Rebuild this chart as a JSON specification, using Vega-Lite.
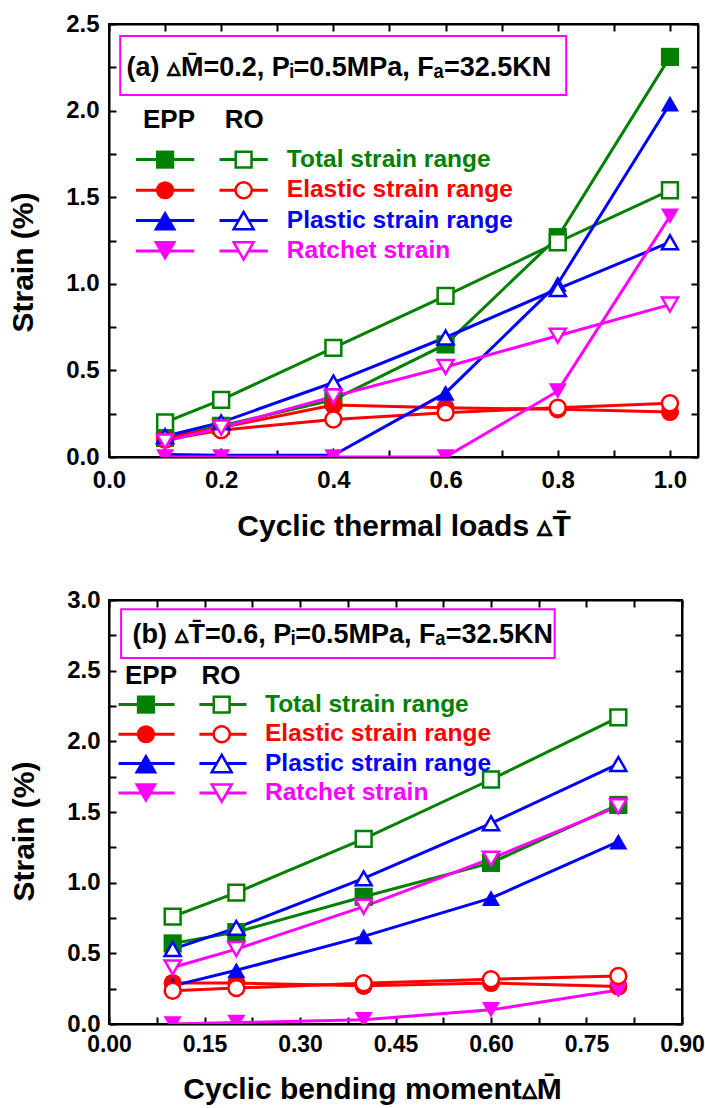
{
"$schema": "https://vega.github.io/schema/vega-lite/v6.json",
"background": "white",
"padding": {"left": 7, "top": 11, "right": 0, "bottom": 4},
"datasets": {
"a": [
{"x":0.1,"y":0.11,"series":"Total","model":"EPP"},{"x":0.2,"y":0.18,"series":"Total","model":"EPP"},{"x":0.4,"y":0.33,"series":"Total","model":"EPP"},{"x":0.6,"y":0.65,"series":"Total","model":"EPP"},{"x":0.8,"y":1.27,"series":"Total","model":"EPP"},{"x":1.0,"y":2.31,"series":"Total","model":"EPP"},
{"x":0.1,"y":0.20,"series":"Total","model":"RO"},{"x":0.2,"y":0.33,"series":"Total","model":"RO"},{"x":0.4,"y":0.63,"series":"Total","model":"RO"},{"x":0.6,"y":0.93,"series":"Total","model":"RO"},{"x":0.8,"y":1.24,"series":"Total","model":"RO"},{"x":1.0,"y":1.54,"series":"Total","model":"RO"},
{"x":0.1,"y":0.11,"series":"Elastic","model":"EPP"},{"x":0.2,"y":0.17,"series":"Elastic","model":"EPP"},{"x":0.4,"y":0.30,"series":"Elastic","model":"EPP"},{"x":0.6,"y":0.285,"series":"Elastic","model":"EPP"},{"x":0.8,"y":0.275,"series":"Elastic","model":"EPP"},{"x":1.0,"y":0.26,"series":"Elastic","model":"EPP"},
{"x":0.1,"y":0.10,"series":"Elastic","model":"RO"},{"x":0.2,"y":0.155,"series":"Elastic","model":"RO"},{"x":0.4,"y":0.217,"series":"Elastic","model":"RO"},{"x":0.6,"y":0.256,"series":"Elastic","model":"RO"},{"x":0.8,"y":0.285,"series":"Elastic","model":"RO"},{"x":1.0,"y":0.31,"series":"Elastic","model":"RO"},
{"x":0.1,"y":0.015,"series":"Plastic","model":"EPP"},{"x":0.2,"y":0.01,"series":"Plastic","model":"EPP"},{"x":0.4,"y":0.01,"series":"Plastic","model":"EPP"},{"x":0.6,"y":0.37,"series":"Plastic","model":"EPP"},{"x":0.8,"y":1.0,"series":"Plastic","model":"EPP"},{"x":1.0,"y":2.04,"series":"Plastic","model":"EPP"},
{"x":0.1,"y":0.12,"series":"Plastic","model":"RO"},{"x":0.2,"y":0.20,"series":"Plastic","model":"RO"},{"x":0.4,"y":0.43,"series":"Plastic","model":"RO"},{"x":0.6,"y":0.69,"series":"Plastic","model":"RO"},{"x":0.8,"y":0.97,"series":"Plastic","model":"RO"},{"x":1.0,"y":1.24,"series":"Plastic","model":"RO"},
{"x":0.1,"y":0.0,"series":"Ratchet","model":"EPP"},{"x":0.2,"y":0.0,"series":"Ratchet","model":"EPP"},{"x":0.4,"y":0.0,"series":"Ratchet","model":"EPP"},{"x":0.6,"y":0.0,"series":"Ratchet","model":"EPP"},{"x":0.8,"y":0.38,"series":"Ratchet","model":"EPP"},{"x":1.0,"y":1.39,"series":"Ratchet","model":"EPP"},
{"x":0.1,"y":0.09,"series":"Ratchet","model":"RO"},{"x":0.2,"y":0.17,"series":"Ratchet","model":"RO"},{"x":0.4,"y":0.35,"series":"Ratchet","model":"RO"},{"x":0.6,"y":0.52,"series":"Ratchet","model":"RO"},{"x":0.8,"y":0.70,"series":"Ratchet","model":"RO"},{"x":1.0,"y":0.88,"series":"Ratchet","model":"RO"}
],
"b": [
{"x":0.1,"y":0.57,"series":"Total","model":"EPP"},{"x":0.2,"y":0.65,"series":"Total","model":"EPP"},{"x":0.4,"y":0.90,"series":"Total","model":"EPP"},{"x":0.6,"y":1.14,"series":"Total","model":"EPP"},{"x":0.8,"y":1.55,"series":"Total","model":"EPP"},
{"x":0.1,"y":0.76,"series":"Total","model":"RO"},{"x":0.2,"y":0.93,"series":"Total","model":"RO"},{"x":0.4,"y":1.31,"series":"Total","model":"RO"},{"x":0.6,"y":1.73,"series":"Total","model":"RO"},{"x":0.8,"y":2.17,"series":"Total","model":"RO"},
{"x":0.1,"y":0.29,"series":"Elastic","model":"EPP"},{"x":0.2,"y":0.29,"series":"Elastic","model":"EPP"},{"x":0.4,"y":0.27,"series":"Elastic","model":"EPP"},{"x":0.6,"y":0.29,"series":"Elastic","model":"EPP"},{"x":0.8,"y":0.265,"series":"Elastic","model":"EPP"},
{"x":0.1,"y":0.235,"series":"Elastic","model":"RO"},{"x":0.2,"y":0.254,"series":"Elastic","model":"RO"},{"x":0.4,"y":0.289,"series":"Elastic","model":"RO"},{"x":0.6,"y":0.317,"series":"Elastic","model":"RO"},{"x":0.8,"y":0.34,"series":"Elastic","model":"RO"},
{"x":0.1,"y":0.27,"series":"Plastic","model":"EPP"},{"x":0.2,"y":0.38,"series":"Plastic","model":"EPP"},{"x":0.4,"y":0.62,"series":"Plastic","model":"EPP"},{"x":0.6,"y":0.89,"series":"Plastic","model":"EPP"},{"x":0.8,"y":1.29,"series":"Plastic","model":"EPP"},
{"x":0.1,"y":0.53,"series":"Plastic","model":"RO"},{"x":0.2,"y":0.68,"series":"Plastic","model":"RO"},{"x":0.4,"y":1.03,"series":"Plastic","model":"RO"},{"x":0.6,"y":1.42,"series":"Plastic","model":"RO"},{"x":0.8,"y":1.84,"series":"Plastic","model":"RO"},
{"x":0.1,"y":0.0,"series":"Ratchet","model":"EPP"},{"x":0.2,"y":0.01,"series":"Ratchet","model":"EPP"},{"x":0.4,"y":0.03,"series":"Ratchet","model":"EPP"},{"x":0.6,"y":0.10,"series":"Ratchet","model":"EPP"},{"x":0.8,"y":0.24,"series":"Ratchet","model":"EPP"},
{"x":0.1,"y":0.40,"series":"Ratchet","model":"RO"},{"x":0.2,"y":0.53,"series":"Ratchet","model":"RO"},{"x":0.4,"y":0.83,"series":"Ratchet","model":"RO"},{"x":0.6,"y":1.17,"series":"Ratchet","model":"RO"},{"x":0.8,"y":1.54,"series":"Ratchet","model":"RO"}
]
},
"columns": 1,
"align": "none",
"spacing": 45,
"concat": [
{
"width": 589, "height": 433,
"data": {"values": [{}]},
"resolve": {"axis": {"x": "independent", "y": "independent"}, "scale": {"size": "independent"}},
"layer": [
{"data": {"name": "a"}, "mark": {"type": "line", "strokeWidth": 3, "clip": true},
 "encoding": {
  "x": {"field": "x", "type": "quantitative", "scale": {"domain": [0, 1.05], "nice": false, "zero": false},
        "axis": {"orient": "bottom", "title": "Cyclic thermal loads ▵T̄", "values": [0,0.1,0.2,0.3,0.4,0.5,0.6,0.7,0.8,0.9,1], "labelExpr": "round(datum.value*10)%2==0 ? format(datum.value,'.1f') : ''", "labelPadding": 18, "titlePadding": 19}},
  "y": {"field": "y", "type": "quantitative", "scale": {"domain": [0, 2.5], "nice": false},
        "axis": {"orient": "left", "title": "Strain (%)", "titleY": 238, "values": [0,0.25,0.5,0.75,1,1.25,1.5,1.75,2,2.25,2.5], "labelExpr": "round(datum.value*4)%2==0 ? format(datum.value,'.1f') : ''", "labelPadding": 17, "titlePadding": 27}},
  "color": {"field": "series", "type": "nominal", "scale": {"domain": ["Total","Elastic","Plastic","Ratchet"], "range": ["#008000","#FF0000","#0000FF","#FF00FF"]}, "legend": null},
  "detail": {"field": "model", "type": "nominal"}
 }},
{"data": {"name": "a"}, "mark": {"type": "point", "opacity": 0},
 "encoding": {
  "x": {"field": "x", "type": "quantitative", "axis": {"orient": "top", "title": null, "labels": false, "values": [0,0.1,0.2,0.3,0.4,0.5,0.6,0.7,0.8,0.9,1]}},
  "y": {"field": "y", "type": "quantitative", "axis": {"orient": "right", "title": null, "labels": false, "values": [0,0.25,0.5,0.75,1,1.25,1.5,1.75,2,2.25,2.5]}}
 }},
{"data": {"name": "a"}, "transform": [{"filter": "datum.model == 'EPP'"}],
 "mark": {"type": "point", "filled": true, "opacity": 1, "clip": true},
 "encoding": {
  "x": {"field": "x", "type": "quantitative", "axis": null},
  "y": {"field": "y", "type": "quantitative", "axis": null},
  "color": {"field": "series", "type": "nominal", "legend": null},
  "shape": {"field": "series", "type": "nominal", "scale": {"domain": ["Total","Elastic","Plastic","Ratchet"], "range": ["square","circle","triangle-up","triangle-down"]}, "legend": null},
  "size": {"field": "series", "type": "nominal", "scale": {"domain": ["Total","Elastic","Plastic","Ratchet"], "range": [330,330,520,520]}, "legend": null}
 }},
{"data": {"name": "a"}, "transform": [{"filter": "datum.model == 'RO'"}],
 "mark": {"type": "point", "filled": true, "fill": "white", "strokeWidth": 2.5, "opacity": 1, "clip": true},
 "encoding": {
  "x": {"field": "x", "type": "quantitative", "axis": null},
  "y": {"field": "y", "type": "quantitative", "axis": null},
  "stroke": {"field": "series", "type": "nominal", "scale": {"domain": ["Total","Elastic","Plastic","Ratchet"], "range": ["#008000","#FF0000","#0000FF","#FF00FF"]}, "legend": null},
  "shape": {"field": "series", "type": "nominal", "legend": null},
  "size": {"field": "series", "type": "nominal", "scale": {"domain": ["Total","Elastic","Plastic","Ratchet"], "range": [250,260,400,400]}, "legend": null}
 }},
{"mark": {"type": "rect", "fill": "white", "stroke": "#FF00FF", "strokeWidth": 2},
 "encoding": {"x": {"datum": 0.02, "type": "quantitative", "axis": null}, "x2": {"datum": 0.815}, "y": {"datum": 2.09, "type": "quantitative", "axis": null}, "y2": {"datum": 2.43}}},
{"mark": {"type": "text", "text": "(a) ▵M̄=0.2, Pᵢ=0.5MPa, Fₐ=32.5KN", "color": "black", "align": "left", "baseline": "middle", "fontSize": 27},
 "encoding": {"x": {"datum": 0.031, "type": "quantitative", "axis": null}, "y": {"datum": 2.245, "type": "quantitative", "axis": null}}},
{"mark": {"type": "text", "text": "EPP", "color": "black", "align": "center", "baseline": "middle", "fontSize": 26},
 "encoding": {"x": {"datum": 0.107, "type": "quantitative", "axis": null}, "y": {"datum": 1.948, "type": "quantitative", "axis": null}}},
{"mark": {"type": "text", "text": "RO", "color": "black", "align": "center", "baseline": "middle", "fontSize": 26},
 "encoding": {"x": {"datum": 0.241, "type": "quantitative", "axis": null}, "y": {"datum": 1.948, "type": "quantitative", "axis": null}}},

{"mark": {"type": "rule", "color": "#008000", "strokeWidth": 3}, "encoding": {"x": {"datum": 0.048, "type": "quantitative", "axis": null}, "x2": {"datum": 0.152}, "y": {"datum": 1.717, "type": "quantitative", "axis": null}}},
{"mark": {"type": "rule", "color": "#008000", "strokeWidth": 3}, "encoding": {"x": {"datum": 0.197, "type": "quantitative", "axis": null}, "x2": {"datum": 0.283}, "y": {"datum": 1.717, "type": "quantitative", "axis": null}}},
{"mark": {"type": "point", "shape": "square", "filled": true, "color": "#008000", "size": 330, "opacity": 1}, "encoding": {"x": {"datum": 0.1, "type": "quantitative", "axis": null}, "y": {"datum": 1.717, "type": "quantitative", "axis": null}}},
{"mark": {"type": "point", "shape": "square", "filled": true, "fill": "white", "stroke": "#008000", "strokeWidth": 2.5, "size": 250, "opacity": 1}, "encoding": {"x": {"datum": 0.24, "type": "quantitative", "axis": null}, "y": {"datum": 1.717, "type": "quantitative", "axis": null}}},
{"mark": {"type": "text", "text": "Total strain range", "color": "#008000", "align": "left", "baseline": "middle", "fontSize": 24.5}, "encoding": {"x": {"datum": 0.317, "type": "quantitative", "axis": null}, "y": {"datum": 1.717, "type": "quantitative", "axis": null}}},

{"mark": {"type": "rule", "color": "#FF0000", "strokeWidth": 3}, "encoding": {"x": {"datum": 0.048, "type": "quantitative", "axis": null}, "x2": {"datum": 0.152}, "y": {"datum": 1.54, "type": "quantitative", "axis": null}}},
{"mark": {"type": "rule", "color": "#FF0000", "strokeWidth": 3}, "encoding": {"x": {"datum": 0.197, "type": "quantitative", "axis": null}, "x2": {"datum": 0.283}, "y": {"datum": 1.54, "type": "quantitative", "axis": null}}},
{"mark": {"type": "point", "shape": "circle", "filled": true, "color": "#FF0000", "size": 330, "opacity": 1}, "encoding": {"x": {"datum": 0.1, "type": "quantitative", "axis": null}, "y": {"datum": 1.54, "type": "quantitative", "axis": null}}},
{"mark": {"type": "point", "shape": "circle", "filled": true, "fill": "white", "stroke": "#FF0000", "strokeWidth": 2.5, "size": 260, "opacity": 1}, "encoding": {"x": {"datum": 0.24, "type": "quantitative", "axis": null}, "y": {"datum": 1.54, "type": "quantitative", "axis": null}}},
{"mark": {"type": "text", "text": "Elastic strain range", "color": "#FF0000", "align": "left", "baseline": "middle", "fontSize": 24.5}, "encoding": {"x": {"datum": 0.317, "type": "quantitative", "axis": null}, "y": {"datum": 1.54, "type": "quantitative", "axis": null}}},

{"mark": {"type": "rule", "color": "#0000FF", "strokeWidth": 3}, "encoding": {"x": {"datum": 0.048, "type": "quantitative", "axis": null}, "x2": {"datum": 0.152}, "y": {"datum": 1.365, "type": "quantitative", "axis": null}}},
{"mark": {"type": "rule", "color": "#0000FF", "strokeWidth": 3}, "encoding": {"x": {"datum": 0.197, "type": "quantitative", "axis": null}, "x2": {"datum": 0.283}, "y": {"datum": 1.365, "type": "quantitative", "axis": null}}},
{"mark": {"type": "point", "shape": "triangle-up", "filled": true, "color": "#0000FF", "size": 520, "opacity": 1}, "encoding": {"x": {"datum": 0.1, "type": "quantitative", "axis": null}, "y": {"datum": 1.365, "type": "quantitative", "axis": null}}},
{"mark": {"type": "point", "shape": "triangle-up", "filled": true, "fill": "white", "stroke": "#0000FF", "strokeWidth": 2.5, "size": 400, "opacity": 1}, "encoding": {"x": {"datum": 0.24, "type": "quantitative", "axis": null}, "y": {"datum": 1.365, "type": "quantitative", "axis": null}}},
{"mark": {"type": "text", "text": "Plastic strain range", "color": "#0000FF", "align": "left", "baseline": "middle", "fontSize": 24.5}, "encoding": {"x": {"datum": 0.317, "type": "quantitative", "axis": null}, "y": {"datum": 1.365, "type": "quantitative", "axis": null}}},

{"mark": {"type": "rule", "color": "#FF00FF", "strokeWidth": 3}, "encoding": {"x": {"datum": 0.048, "type": "quantitative", "axis": null}, "x2": {"datum": 0.152}, "y": {"datum": 1.19, "type": "quantitative", "axis": null}}},
{"mark": {"type": "rule", "color": "#FF00FF", "strokeWidth": 3}, "encoding": {"x": {"datum": 0.197, "type": "quantitative", "axis": null}, "x2": {"datum": 0.283}, "y": {"datum": 1.19, "type": "quantitative", "axis": null}}},
{"mark": {"type": "point", "shape": "triangle-down", "filled": true, "color": "#FF00FF", "size": 520, "opacity": 1}, "encoding": {"x": {"datum": 0.1, "type": "quantitative", "axis": null}, "y": {"datum": 1.19, "type": "quantitative", "axis": null}}},
{"mark": {"type": "point", "shape": "triangle-down", "filled": true, "fill": "white", "stroke": "#FF00FF", "strokeWidth": 2.5, "size": 400, "opacity": 1}, "encoding": {"x": {"datum": 0.24, "type": "quantitative", "axis": null}, "y": {"datum": 1.19, "type": "quantitative", "axis": null}}},
{"mark": {"type": "text", "text": "Ratchet strain", "color": "#FF00FF", "align": "left", "baseline": "middle", "fontSize": 24.5}, "encoding": {"x": {"datum": 0.317, "type": "quantitative", "axis": null}, "y": {"datum": 1.19, "type": "quantitative", "axis": null}}}
]
},
{
"width": 573, "height": 424,
"data": {"values": [{}]},
"resolve": {"axis": {"x": "independent", "y": "independent"}, "scale": {"size": "independent"}},
"layer": [
{"data": {"name": "b"}, "mark": {"type": "line", "strokeWidth": 3, "clip": true},
 "encoding": {
  "x": {"field": "x", "type": "quantitative", "scale": {"domain": [0, 0.9], "nice": false, "zero": false},
        "axis": {"orient": "bottom", "title": "Cyclic bending moment▵M̄", "titleX": 263, "values": [0,0.075,0.15,0.225,0.3,0.375,0.45,0.525,0.6,0.675,0.75,0.825,0.9], "labelExpr": "round(datum.value*1000)%150==0 ? format(datum.value,'.2f') : ''", "labelFontSize": 23, "labelPadding": 16, "titlePadding": 18}},
  "y": {"field": "y", "type": "quantitative", "scale": {"domain": [0, 3], "nice": false},
        "axis": {"orient": "left", "title": "Strain (%)", "titleY": 231, "values": [0,0.25,0.5,0.75,1,1.25,1.5,1.75,2,2.25,2.5,2.75,3], "labelExpr": "round(datum.value*4)%2==0 ? format(datum.value,'.1f') : ''", "labelPadding": 16, "titlePadding": 27}},
  "color": {"field": "series", "type": "nominal", "scale": {"domain": ["Total","Elastic","Plastic","Ratchet"], "range": ["#008000","#FF0000","#0000FF","#FF00FF"]}, "legend": null},
  "detail": {"field": "model", "type": "nominal"}
 }},
{"data": {"name": "b"}, "mark": {"type": "point", "opacity": 0},
 "encoding": {
  "x": {"field": "x", "type": "quantitative", "axis": {"orient": "top", "title": null, "labels": false, "values": [0,0.075,0.15,0.225,0.3,0.375,0.45,0.525,0.6,0.675,0.75,0.825,0.9]}},
  "y": {"field": "y", "type": "quantitative", "axis": {"orient": "right", "title": null, "labels": false, "values": [0,0.25,0.5,0.75,1,1.25,1.5,1.75,2,2.25,2.5,2.75,3]}}
 }},
{"data": {"name": "b"}, "transform": [{"filter": "datum.model == 'EPP'"}],
 "mark": {"type": "point", "filled": true, "opacity": 1, "clip": true},
 "encoding": {
  "x": {"field": "x", "type": "quantitative", "axis": null},
  "y": {"field": "y", "type": "quantitative", "axis": null},
  "color": {"field": "series", "type": "nominal", "legend": null},
  "shape": {"field": "series", "type": "nominal", "scale": {"domain": ["Total","Elastic","Plastic","Ratchet"], "range": ["square","circle","triangle-up","triangle-down"]}, "legend": null},
  "size": {"field": "series", "type": "nominal", "scale": {"domain": ["Total","Elastic","Plastic","Ratchet"], "range": [330,330,520,520]}, "legend": null}
 }},
{"data": {"name": "b"}, "transform": [{"filter": "datum.model == 'RO'"}],
 "mark": {"type": "point", "filled": true, "fill": "white", "strokeWidth": 2.5, "opacity": 1, "clip": true},
 "encoding": {
  "x": {"field": "x", "type": "quantitative", "axis": null},
  "y": {"field": "y", "type": "quantitative", "axis": null},
  "stroke": {"field": "series", "type": "nominal", "scale": {"domain": ["Total","Elastic","Plastic","Ratchet"], "range": ["#008000","#FF0000","#0000FF","#FF00FF"]}, "legend": null},
  "shape": {"field": "series", "type": "nominal", "legend": null},
  "size": {"field": "series", "type": "nominal", "scale": {"domain": ["Total","Elastic","Plastic","Ratchet"], "range": [250,260,400,400]}, "legend": null}
 }},
{"mark": {"type": "rect", "fill": "white", "stroke": "#FF00FF", "strokeWidth": 2},
 "encoding": {"x": {"datum": 0.019, "type": "quantitative", "axis": null}, "x2": {"datum": 0.70}, "y": {"datum": 2.589, "type": "quantitative", "axis": null}, "y2": {"datum": 2.934}}},
{"mark": {"type": "text", "text": "(b) ▵T̄=0.6, Pᵢ=0.5MPa, Fₐ=32.5KN", "color": "black", "align": "left", "baseline": "middle", "fontSize": 27},
 "encoding": {"x": {"datum": 0.037, "type": "quantitative", "axis": null}, "y": {"datum": 2.753, "type": "quantitative", "axis": null}}},
{"mark": {"type": "text", "text": "EPP", "color": "black", "align": "center", "baseline": "middle", "fontSize": 26},
 "encoding": {"x": {"datum": 0.066, "type": "quantitative", "axis": null}, "y": {"datum": 2.46, "type": "quantitative", "axis": null}}},
{"mark": {"type": "text", "text": "RO", "color": "black", "align": "center", "baseline": "middle", "fontSize": 26},
 "encoding": {"x": {"datum": 0.176, "type": "quantitative", "axis": null}, "y": {"datum": 2.46, "type": "quantitative", "axis": null}}},

{"mark": {"type": "rule", "color": "#008000", "strokeWidth": 3}, "encoding": {"x": {"datum": 0.015, "type": "quantitative", "axis": null}, "x2": {"datum": 0.103}, "y": {"datum": 2.26, "type": "quantitative", "axis": null}}},
{"mark": {"type": "rule", "color": "#008000", "strokeWidth": 3}, "encoding": {"x": {"datum": 0.142, "type": "quantitative", "axis": null}, "x2": {"datum": 0.216}, "y": {"datum": 2.26, "type": "quantitative", "axis": null}}},
{"mark": {"type": "point", "shape": "square", "filled": true, "color": "#008000", "size": 330, "opacity": 1}, "encoding": {"x": {"datum": 0.058, "type": "quantitative", "axis": null}, "y": {"datum": 2.26, "type": "quantitative", "axis": null}}},
{"mark": {"type": "point", "shape": "square", "filled": true, "fill": "white", "stroke": "#008000", "strokeWidth": 2.5, "size": 250, "opacity": 1}, "encoding": {"x": {"datum": 0.177, "type": "quantitative", "axis": null}, "y": {"datum": 2.26, "type": "quantitative", "axis": null}}},
{"mark": {"type": "text", "text": "Total strain range", "color": "#008000", "align": "left", "baseline": "middle", "fontSize": 24.5}, "encoding": {"x": {"datum": 0.245, "type": "quantitative", "axis": null}, "y": {"datum": 2.26, "type": "quantitative", "axis": null}}},

{"mark": {"type": "rule", "color": "#FF0000", "strokeWidth": 3}, "encoding": {"x": {"datum": 0.015, "type": "quantitative", "axis": null}, "x2": {"datum": 0.103}, "y": {"datum": 2.05, "type": "quantitative", "axis": null}}},
{"mark": {"type": "rule", "color": "#FF0000", "strokeWidth": 3}, "encoding": {"x": {"datum": 0.142, "type": "quantitative", "axis": null}, "x2": {"datum": 0.216}, "y": {"datum": 2.05, "type": "quantitative", "axis": null}}},
{"mark": {"type": "point", "shape": "circle", "filled": true, "color": "#FF0000", "size": 330, "opacity": 1}, "encoding": {"x": {"datum": 0.058, "type": "quantitative", "axis": null}, "y": {"datum": 2.05, "type": "quantitative", "axis": null}}},
{"mark": {"type": "point", "shape": "circle", "filled": true, "fill": "white", "stroke": "#FF0000", "strokeWidth": 2.5, "size": 260, "opacity": 1}, "encoding": {"x": {"datum": 0.177, "type": "quantitative", "axis": null}, "y": {"datum": 2.05, "type": "quantitative", "axis": null}}},
{"mark": {"type": "text", "text": "Elastic strain range", "color": "#FF0000", "align": "left", "baseline": "middle", "fontSize": 24.5}, "encoding": {"x": {"datum": 0.245, "type": "quantitative", "axis": null}, "y": {"datum": 2.05, "type": "quantitative", "axis": null}}},

{"mark": {"type": "rule", "color": "#0000FF", "strokeWidth": 3}, "encoding": {"x": {"datum": 0.015, "type": "quantitative", "axis": null}, "x2": {"datum": 0.103}, "y": {"datum": 1.843, "type": "quantitative", "axis": null}}},
{"mark": {"type": "rule", "color": "#0000FF", "strokeWidth": 3}, "encoding": {"x": {"datum": 0.142, "type": "quantitative", "axis": null}, "x2": {"datum": 0.216}, "y": {"datum": 1.843, "type": "quantitative", "axis": null}}},
{"mark": {"type": "point", "shape": "triangle-up", "filled": true, "color": "#0000FF", "size": 520, "opacity": 1}, "encoding": {"x": {"datum": 0.058, "type": "quantitative", "axis": null}, "y": {"datum": 1.843, "type": "quantitative", "axis": null}}},
{"mark": {"type": "point", "shape": "triangle-up", "filled": true, "fill": "white", "stroke": "#0000FF", "strokeWidth": 2.5, "size": 400, "opacity": 1}, "encoding": {"x": {"datum": 0.177, "type": "quantitative", "axis": null}, "y": {"datum": 1.843, "type": "quantitative", "axis": null}}},
{"mark": {"type": "text", "text": "Plastic strain range", "color": "#0000FF", "align": "left", "baseline": "middle", "fontSize": 24.5}, "encoding": {"x": {"datum": 0.245, "type": "quantitative", "axis": null}, "y": {"datum": 1.843, "type": "quantitative", "axis": null}}},

{"mark": {"type": "rule", "color": "#FF00FF", "strokeWidth": 3}, "encoding": {"x": {"datum": 0.015, "type": "quantitative", "axis": null}, "x2": {"datum": 0.103}, "y": {"datum": 1.634, "type": "quantitative", "axis": null}}},
{"mark": {"type": "rule", "color": "#FF00FF", "strokeWidth": 3}, "encoding": {"x": {"datum": 0.142, "type": "quantitative", "axis": null}, "x2": {"datum": 0.216}, "y": {"datum": 1.634, "type": "quantitative", "axis": null}}},
{"mark": {"type": "point", "shape": "triangle-down", "filled": true, "color": "#FF00FF", "size": 520, "opacity": 1}, "encoding": {"x": {"datum": 0.058, "type": "quantitative", "axis": null}, "y": {"datum": 1.634, "type": "quantitative", "axis": null}}},
{"mark": {"type": "point", "shape": "triangle-down", "filled": true, "fill": "white", "stroke": "#FF00FF", "strokeWidth": 2.5, "size": 400, "opacity": 1}, "encoding": {"x": {"datum": 0.177, "type": "quantitative", "axis": null}, "y": {"datum": 1.634, "type": "quantitative", "axis": null}}},
{"mark": {"type": "text", "text": "Ratchet strain", "color": "#FF00FF", "align": "left", "baseline": "middle", "fontSize": 24.5}, "encoding": {"x": {"datum": 0.245, "type": "quantitative", "axis": null}, "y": {"datum": 1.634, "type": "quantitative", "axis": null}}}
]
}
],
"config": {
 "view": {"stroke": "black", "strokeWidth": 2},
 "text": {"font": "Liberation Sans", "fontWeight": "bold"},
 "axis": {"labelFont": "Liberation Sans", "labelFontWeight": "bold", "labelFontSize": 24, "labelColor": "black",
          "titleFont": "Liberation Sans", "titleFontWeight": "bold", "titleFontSize": 30, "titleColor": "black",
          "tickColor": "black", "tickWidth": 2, "tickSize": -7, "domainColor": "black", "domainWidth": 2,
          "grid": false, "labelFlush": false, "labelOverlap": false}
}
}
